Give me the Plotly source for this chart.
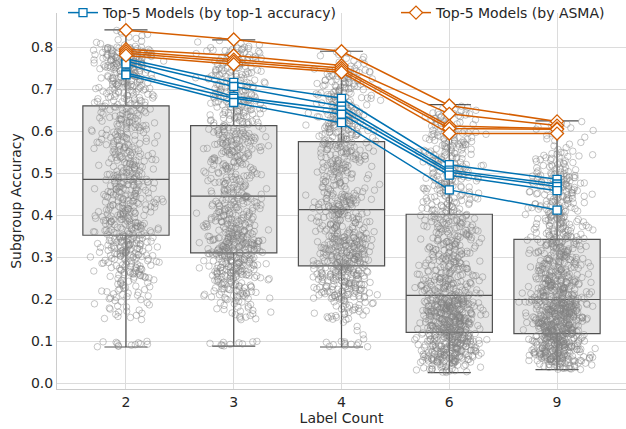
import math
import plotly.graph_objects as go

# ---------------- data ----------------
categories = ["2", "3", "4", "6", "9"]

# box statistics
q1 = [0.352, 0.310, 0.279, 0.121, 0.118]
median = [0.485, 0.445, 0.413, 0.209, 0.199]
q3 = [0.660, 0.613, 0.575, 0.402, 0.342]
lower_whisker = [0.086, 0.088, 0.086, 0.025, 0.032]
upper_whisker = [0.841, 0.817, 0.790, 0.663, 0.624]

# point clouds, as counts per 0.05-wide bin (0.00-0.05, 0.05-0.10, ...)
bin_edges = [round(0.05 * i, 2) for i in range(18)]
counts_2 = [0, 12, 0, 20, 30, 55, 80, 70, 65, 65, 50, 50, 50, 55, 75, 110, 13]
counts_3 = [0, 10, 0, 25, 55, 90, 110, 70, 60, 45, 50, 65, 50, 60, 55, 50, 5]
counts_4 = [0, 12, 5, 35, 80, 100, 95, 60, 70, 40, 55, 60, 65, 55, 55, 13, 0]
counts_6 = [30, 140, 150, 155, 85, 65, 60, 60, 50, 55, 50, 55, 40, 5, 0, 0, 0]
counts_9 = [25, 150, 165, 160, 110, 80, 75, 60, 55, 65, 35, 12, 8, 0, 0, 0, 0]
point_counts = [counts_2, counts_3, counts_4, counts_6, counts_9]

# Top-5 models by top-1 accuracy
top1_model_1 = [0.772, 0.716, 0.678, 0.520, 0.485]
top1_model_2 = [0.766, 0.706, 0.659, 0.507, 0.474]
top1_model_3 = [0.760, 0.682, 0.650, 0.502, 0.468]
top1_model_4 = [0.738, 0.678, 0.640, 0.495, 0.458]
top1_model_5 = [0.734, 0.668, 0.620, 0.460, 0.412]
top1_models = [top1_model_1, top1_model_2, top1_model_3, top1_model_4, top1_model_5]

# Top-5 models by ASMA
asma_model_1 = [0.840, 0.818, 0.790, 0.661, 0.623]
asma_model_2 = [0.795, 0.780, 0.756, 0.641, 0.613]
asma_model_3 = [0.790, 0.770, 0.750, 0.612, 0.606]
asma_model_4 = [0.785, 0.765, 0.745, 0.606, 0.604]
asma_model_5 = [0.780, 0.759, 0.740, 0.594, 0.594]
asma_models = [asma_model_1, asma_model_2, asma_model_3, asma_model_4, asma_model_5]

# ---------------- styling ----------------
BLUE = "#0072B2"
ORANGE = "#D55E00"
TXT = "#262626"
GRID = "#dcdcdc"
FONT = "DejaVu Sans"

xpos = list(range(len(categories)))


def _hash01(k, salt):
    """Deterministic scatter value in [0, 1) used only for horizontal jitter."""
    v = math.sin(k * 12.9898 + salt * 78.233) * 43758.5453
    return v - math.floor(v)


fig = go.Figure()

fig.add_trace(go.Box(
    x=xpos, q1=q1, median=median, q3=q3,
    lowerfence=lower_whisker, upperfence=upper_whisker,
    width=0.8, whiskerwidth=0.5,
    fillcolor="#e5e5e5",
    line=dict(color="#505050", width=1.2),
    boxpoints=False, showlegend=False, hoverinfo="skip",
))

# points: evenly spread within each value bin (kept inside the whisker range),
# with horizontal jitter
px, py = [], []
for ci, counts in enumerate(point_counts):
    k = 0
    for bi, n in enumerate(counts):
        lo = max(bin_edges[bi], lower_whisker[ci])
        hi = min(bin_edges[bi + 1], upper_whisker[ci])
        for j in range(n):
            h1 = _hash01(k, ci * 4 + 1)
            h2 = _hash01(k, ci * 4 + 2)
            h3 = _hash01(k, ci * 4 + 3)
            px.append(ci + (h1 + h2 + h3 - 1.5) * 0.26)
            py.append(lo + (j + 0.5) / n * (hi - lo))
            k += 1

fig.add_trace(go.Scatter(
    x=px, y=py, mode="markers",
    marker=dict(symbol="circle-open", size=6.5, color="rgba(128,128,128,0.45)",
                line=dict(width=1)),
    showlegend=False, hoverinfo="skip",
))

for i, vals in enumerate(top1_models):
    fig.add_trace(go.Scatter(
        x=xpos, y=vals, mode="lines+markers",
        line=dict(color=BLUE, width=1.5),
        marker=dict(symbol="square", size=8, color="white",
                    line=dict(color=BLUE, width=1.3)),
        name="Top-5 Models (by top-1 accuracy)",
        legend="legend", showlegend=(i == 0),
    ))

for i, vals in enumerate(asma_models):
    fig.add_trace(go.Scatter(
        x=xpos, y=vals, mode="lines+markers",
        line=dict(color=ORANGE, width=1.5),
        marker=dict(symbol="diamond", size=10, color="white",
                    line=dict(color=ORANGE, width=1.3)),
        name="Top-5 Models (by ASMA)",
        legend="legend2", showlegend=(i == 0),
    ))

leg_common = dict(orientation="h", yref="container", y=1 - 13 / 429,
                  xanchor="left", yanchor="middle",
                  bgcolor="rgba(0,0,0,0)", font=dict(size=14, color=TXT, family=FONT),
                  itemwidth=30)

fig.update_layout(
    width=626, height=429,
    margin=dict(l=57, r=0, t=13, b=40, autoexpand=False),
    paper_bgcolor="white", plot_bgcolor="white",
    font=dict(family=FONT, size=14, color=TXT),
    showlegend=True,
    legend=dict(x=(63 - 57) / 569, **leg_common),
    legend2=dict(x=(396 - 57) / 569, **leg_common),
    xaxis=dict(
        range=[-0.64, 4.64], tickvals=xpos, ticktext=categories,
        showgrid=True, gridcolor=GRID, gridwidth=1,
        showline=True, linecolor="#cccccc", linewidth=1,
        zeroline=False, ticks="", automargin=False,
        title=dict(text="Label Count", font=dict(size=14, color=TXT), standoff=2),
    ),
    yaxis=dict(
        range=[-0.014, 0.881], tickvals=[0.1 * i for i in range(9)],
        tickformat=".1f",
        showgrid=True, gridcolor=GRID, gridwidth=1,
        showline=True, linecolor="#cccccc", linewidth=1,
        zeroline=False, ticks="", automargin=False,
        title=dict(text="Subgroup Accuracy", font=dict(size=14, color=TXT), standoff=6),
    ),
)

fig.write_html("out.html", config={"displayModeBar": False},
               post_script="document.body.style.margin='0';")
